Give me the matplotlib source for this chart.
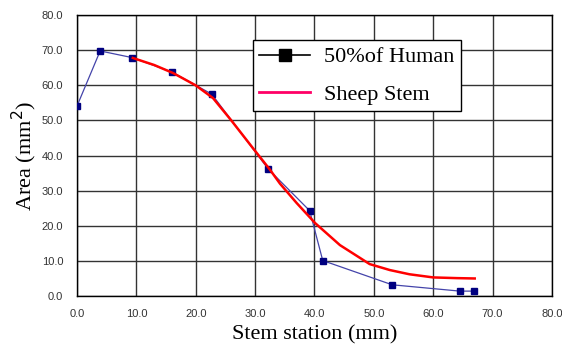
import numpy as np
import matplotlib.pyplot as plt
from matplotlib.lines import Line2D

# 50% of human stem (measured points)
human_x = [0.0, 3.9, 9.3, 16.0, 22.7, 32.2, 39.2, 41.4, 53.1, 64.5, 66.8]
human_y = [54.1, 69.8, 67.9, 63.8, 57.5, 36.2, 24.3, 10.1, 3.2, 1.4, 1.4]

# sheep stem (smooth curve)
sheep_x = [9.4, 13.0, 16.2, 20.0, 22.9, 26.0, 29.6, 32.5, 34.2, 37.0, 40.1,
           44.3, 49.3, 52.7, 56.0, 60.0, 64.0, 67.0]
sheep_y = [67.8, 65.8, 63.5, 60.0, 56.4, 50.0, 42.2, 36.0, 32.0, 26.5, 20.8,
           14.5, 9.1, 7.4, 6.2, 5.3, 5.1, 5.0]

xticks = np.arange(0, 81, 10)
yticks = np.arange(0, 81, 10)

fig = plt.figure(figsize=(5.62, 3.52), dpi=100)
ax = fig.add_axes([0.137, 0.159, 0.845, 0.798])

ax.plot(human_x, human_y, color="#4444aa", lw=0.9, zorder=3)
ax.plot(human_x, human_y, ls="none", marker="s", ms=5, color="#000080", zorder=4)
ax.plot(sheep_x, sheep_y, color="#ff0000", lw=1.8, zorder=5)

ax.set_xlim(0, 80)
ax.set_ylim(0, 80)
ax.set_xticks(xticks)
ax.set_yticks(yticks)
ax.set_xticklabels(["%.1f" % v for v in xticks], family="Liberation Sans")
ax.set_yticklabels(["%.1f" % v for v in yticks], family="Liberation Sans")
ax.tick_params(length=0, labelsize=8, colors="#333333")
ax.tick_params(axis="x", pad=9)
ax.tick_params(axis="y", pad=10)
ax.grid(True, color="#333333", lw=1.0)
ax.set_axisbelow(True)
for s in ax.spines.values():
    s.set_color("black")
    s.set_linewidth(1.0)

ax.set_xlabel("Stem station (mm)", family="Liberation Serif", fontsize=16, labelpad=5)
ax.set_ylabel("Area (mm$^2$)", family="Liberation Serif", fontsize=16, labelpad=2)

handles = [Line2D([], [], color="black", lw=1.2, marker="s", ms=9, mfc="black"),
           Line2D([], [], color="#ff0066", lw=2.0)]
leg = ax.legend(handles, ["50%of Human", "Sheep Stem"], loc="upper left",
                bbox_to_anchor=(0.37, 0.911), borderaxespad=0,
                prop={"family": "Liberation Serif", "size": 16},
                frameon=True, fancybox=False, framealpha=1, edgecolor="black",
                handlelength=2.3, handletextpad=0.6, borderpad=0.3, labelspacing=0.75)
leg.get_frame().set_linewidth(1.0)
leg.set_zorder(10)

fig.savefig("out.png", dpi=100)
